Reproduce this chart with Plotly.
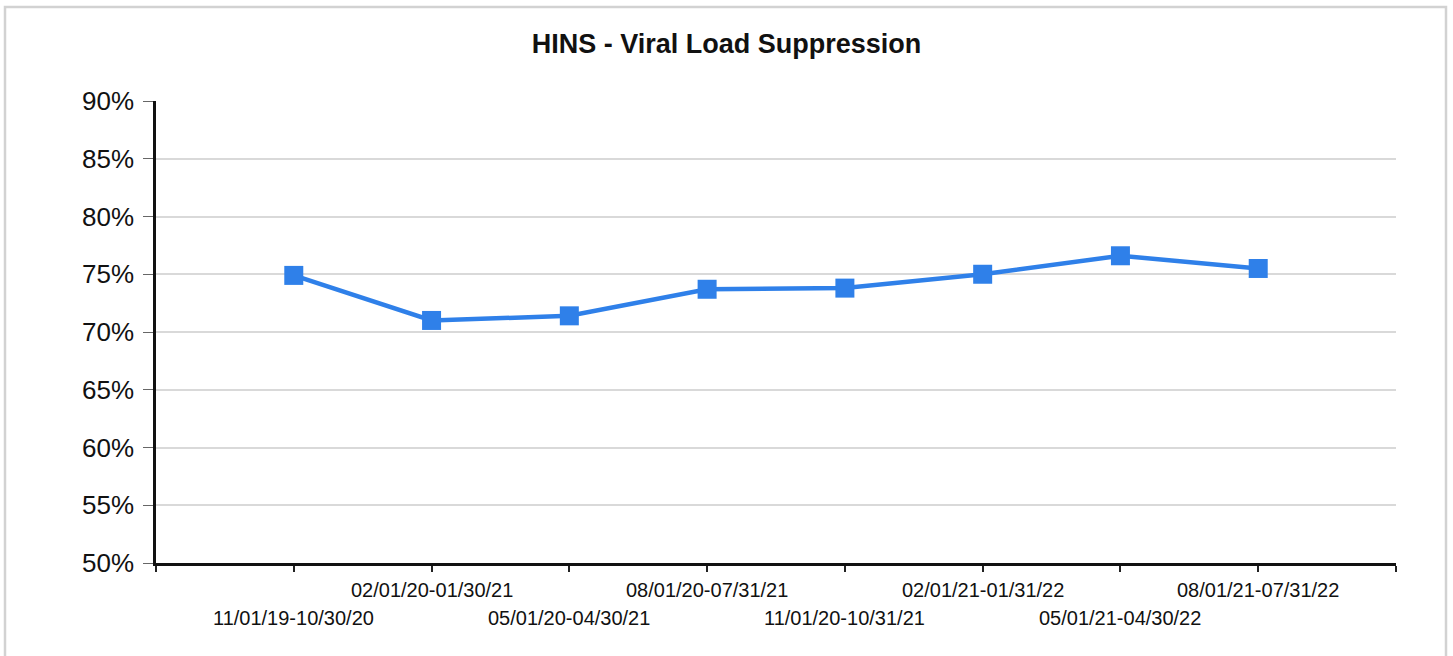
import plotly.graph_objects as go

categories = ["11/01/19-10/30/20", "02/01/20-01/30/21", "05/01/20-04/30/21",
              "08/01/20-07/31/21", "11/01/20-10/31/21", "02/01/21-01/31/22",
              "05/01/21-04/30/22", "08/01/21-07/31/22"]
values = [74.9, 71.0, 71.4, 73.7, 73.8, 75.0, 76.6, 75.5]
y_ticks = [50, 55, 60, 65, 70, 75, 80, 85, 90]
y_labels = [f"{v}%" for v in y_ticks]

LINE_COLOR = "#2f80e9"
idx = list(range(len(categories)))

fig = go.Figure()
fig.add_trace(go.Scatter(
    x=idx, y=values, mode="lines+markers",
    line=dict(color=LINE_COLOR, width=4.5),
    marker=dict(symbol="square", size=19, color=LINE_COLOR),
    hoverinfo="skip", showlegend=False,
))

annotations = []
for i, lab in enumerate(categories):
    annotations.append(dict(
        x=i, xref="x", y=-0.058 if i % 2 == 1 else -0.119, yref="paper",
        text=lab, showarrow=False, xanchor="center", yanchor="middle",
        font=dict(family="Liberation Sans, Arial", size=20, color="#111"),
    ))

fig.update_layout(
    width=1453, height=656,
    margin=dict(l=156, r=57, t=101, b=93),
    paper_bgcolor="white", plot_bgcolor="white",
    title=dict(text="<b>HINS - Viral Load Suppression</b>", x=0.5, xanchor="center",
               y=1 - 44 / 656, yref="container", yanchor="middle",
               font=dict(family="Liberation Sans, Arial", size=27, color="#111")),
    xaxis=dict(range=[-1, len(categories)], tickvals=list(range(-1, len(categories) + 1)),
               ticktext=[""] * (len(categories) + 2), ticks="outside", ticklen=6,
               tickcolor="#222", tickwidth=1.5, showgrid=False, zeroline=False,
               showline=True, linecolor="#111", linewidth=2.5),
    yaxis=dict(range=[50, 90], tickvals=y_ticks, ticktext=y_labels, ticks="outside",
               ticklen=10, tickcolor="#666", tickwidth=1, showgrid=True,
               gridcolor="#d9d9d9", gridwidth=1.5, zeroline=False, showline=True,
               linecolor="#111", linewidth=2.5, ticklabelstandoff=4,
               tickfont=dict(family="Liberation Sans, Arial", size=26, color="#111")),
    annotations=annotations,
    shapes=[dict(type="rect", xref="paper", yref="paper",
                 x0=(5 - 156) / 1240, x1=(1446 - 156) / 1240,
                 y0=(563 - 670) / 462, y1=(563 - 7) / 462,
                 line=dict(color="#d2d2d2", width=2.5), fillcolor="rgba(0,0,0,0)",
                 layer="below")],
)

fig.write_html("out.html", config={"displayModeBar": False},
               post_script="document.body.style.margin='0';")
